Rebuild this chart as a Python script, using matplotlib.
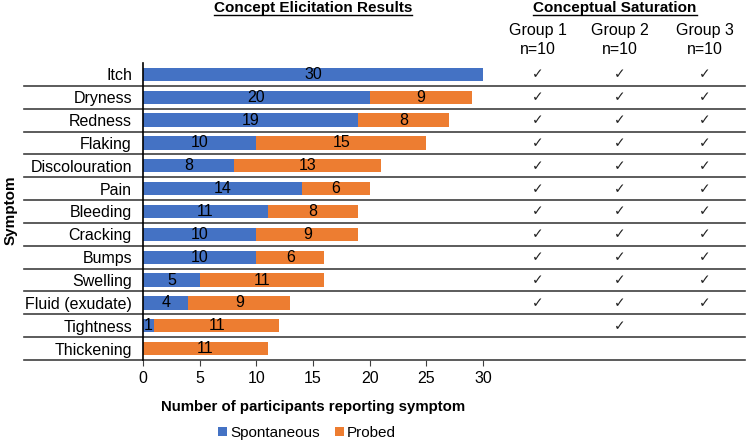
import matplotlib.pyplot as plt
import matplotlib.transforms as mtransforms

plt.rcParams['font.family'] = ['Liberation Sans', 'DejaVu Sans']

symptoms = ["Itch", "Dryness", "Redness", "Flaking", "Discolouration", "Pain",
            "Bleeding", "Cracking", "Bumps", "Swelling", "Fluid (exudate)",
            "Tightness", "Thickening"]
spontaneous = [30, 20, 19, 10, 8, 14, 11, 10, 10, 5, 4, 1, 0]
probed = [0, 9, 8, 15, 13, 6, 8, 9, 6, 11, 9, 11, 11]
group_labels = ["Group 1\nn=10", "Group 2\nn=10", "Group 3\nn=10"]
saturation = [
    [1, 1, 1], [1, 1, 1], [1, 1, 1], [1, 1, 1], [1, 1, 1], [1, 1, 1],
    [1, 1, 1], [1, 1, 1], [1, 1, 1], [1, 1, 1], [1, 1, 1],
    [0, 1, 0], [0, 0, 0],
]

blue = "#4472C4"
orange = "#ED7D31"
fs = 11.5

fig = plt.figure(figsize=(7.46, 4.42), dpi=100)
ax = fig.add_axes([143 / 746, 1 - 360 / 442, 340 / 746, 297 / 442])

y = list(range(len(symptoms)))
ax.barh(y, spontaneous, height=0.58, color=blue, label="Spontaneous")
ax.barh(y, probed, left=spontaneous, height=0.58, color=orange, label="Probed")

for i in y:
    if spontaneous[i] > 0:
        ax.text(spontaneous[i] / 2, i, str(spontaneous[i]), ha="center", va="center", fontsize=fs)
    if probed[i] > 0:
        ax.text(spontaneous[i] + probed[i] / 2, i, str(probed[i]), ha="center", va="center", fontsize=fs)

ax.set_ylim(len(symptoms) - 0.5, -0.5)
ax.set_xlim(0, 30)
ax.set_yticks(y)
ax.set_yticklabels(symptoms, fontsize=fs)
ax.tick_params(axis="y", length=0, pad=8)
ax.set_xticks(range(0, 31, 5))
ax.tick_params(axis="x", labelsize=fs, length=4, direction="out", pad=4, color="#404040")
for s in ["top", "right", "bottom"]:
    ax.spines[s].set_visible(False)
ax.spines["left"].set_linewidth(1.2)

# row separators spanning the whole figure width
trans = mtransforms.blended_transform_factory(fig.transFigure, ax.transData)
for i in y:
    ax.plot([24 / 746, 745 / 746], [i + 0.5, i + 0.5], transform=trans,
            color="#404040", lw=1.2, clip_on=False)

# saturation columns
col_x = [538 / 746, 620 / 746, 705 / 746]
for i in y:
    for j, cx in enumerate(col_x):
        if saturation[i][j]:
            ax.text(cx, i, "\u2713", transform=trans, ha="center", va="center",
                    fontsize=10, family="DejaVu Sans", color="#222222")
for j, cx in enumerate(col_x):
    fig.text(cx, 1 - 40 / 442, group_labels[j], ha="center", va="center",
             fontsize=fs, linespacing=1.25)

# titles
t1 = fig.text(313 / 746, 1 - 8 / 442, "Concept Elicitation Results", ha="center",
              va="center", fontsize=11, fontweight="bold")
t2 = fig.text(615 / 746, 1 - 8 / 442, "Conceptual Saturation", ha="center",
              va="center", fontsize=11, fontweight="bold")
fig.canvas.draw()
r = fig.canvas.get_renderer()
for t in [t1, t2]:
    bb = t.get_window_extent(r).transformed(fig.transFigure.inverted())
    fig.add_artist(plt.Line2D([bb.x0, bb.x1], [bb.y0 - 0.001, bb.y0 - 0.001],
                              transform=fig.transFigure, color="black", lw=1))

ax.set_xlabel("Number of participants reporting symptom", fontsize=10.8,
              fontweight="bold", labelpad=10)
fig.text(11 / 746, 1 - 210 / 442, "Symptom", rotation=90, ha="center", va="center",
         fontsize=11, fontweight="bold")

ax.legend(loc="center", bbox_to_anchor=(307 / 746, 1 - 433 / 442),
          bbox_transform=fig.transFigure, ncol=2, frameon=False, fontsize=11,
          handlelength=0.6, handleheight=0.6, handletextpad=0.2, columnspacing=1.0)

fig.savefig("out.png", dpi=100)
